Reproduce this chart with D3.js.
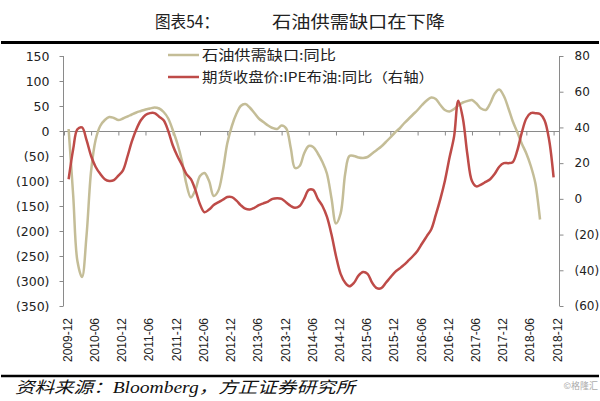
<!DOCTYPE html>
<html><head><meta charset="utf-8">
<script src="https://cdn.jsdelivr.net/npm/d3@7"></script>
<style>body{margin:0;background:#fff}svg{display:block}</style>
</head><body>
<svg id="c" width="600" height="401"></svg>
<script>
// ---------- data ----------
const seriesStart = "2010-01";
const gapName = "石油供需缺口:同比";
const brentName = "期货收盘价:IPE布油:同比（右轴）";
const gapValues = [
  4,-130,-260,-292,-210,-80,-18,10,22,28,26,22,
  25,29,33,37,40,43,45,47,45,38,25,2,
  -25,-60,-105,-133,-118,-90,-84,-100,-130,-120,-80,-25,
  10,35,50,54,47,36,25,18,11,6,4,11,
  5,-35,-74,-70,-45,-30,-32,-45,-62,-85,-135,-185,
  -165,-85,-50,-50,-53,-54,-52,-45,-38,-31,-22,-13,
  -3,5,15,24,33,42,52,61,67,64,52,42,
  39,44,51,57,60,62,55,45,42,55,75,83,
  70,45,20,-2,-25,-45,-70,-105,-177
];
const brentValues = [
  11,28,39,40,33,24,18,14,11,10,10.5,13,
  16,24,32,39,44,47,48,48,46,44,38,30,
  24,19,14,11,5,-3,-7.5,-6,-3.5,-2,-0.5,1,
  1,-1,-3.5,-5.5,-6,-5,-3.5,-2.5,-1.5,0,0.3,0,
  -2,-4,-5,-4,0,5,5,0,-4,-10,-20,-32,
  -42,-47,-49,-47,-43,-41,-42,-47,-50,-50,-47,-44,
  -41,-39,-37,-34.5,-32,-29,-25,-21,-17,-9,0,10,
  23,35,55,45,25,10,7,8,9.5,11,14,18,
  20,20,20.5,27,37,45,48,48,47.5,44,33,12
];
const leftTicks = [150,100,50,0,-50,-100,-150,-200,-250,-300,-350];
const rightTicks = [80,60,40,20,0,-20,-40,-60];
const xTickLabels = ["2009-12","2010-06","2010-12","2011-06","2011-12","2012-06","2012-12","2013-06","2013-12","2014-06","2014-12","2015-06","2015-12","2016-06","2016-12","2017-06","2017-12","2018-06","2018-12"];
const titleLabel = "图表54：";
const titleText = "石油供需缺口在下降";
const sourceText = "资料来源：Bloomberg，方正证券研究所";
const watermark = "©格隆汇";

// ---------- setup ----------
const svg = d3.select("#c");
const parseM = d3.utcParse("%Y-%m");
const start = parseM(seriesStart);
const axisColor = "#8a8a8a";
const tan = "#C4BD97", red = "#BE4B48";

const x = d3.scaleUtc()
  .domain([parseM(xTickLabels[0]), parseM(xTickLabels[xTickLabels.length-1])])
  .range([64, 553.6]);
const yL = d3.scaleLinear().domain([-350,150]).range([306,56]);
const yR = d3.scaleLinear().domain([-60,80]).range([306,56]);
const fmt = v => v < 0 ? "(" + Math.abs(v) + ")" : String(v);

// ---------- title ----------
svg.append("text").attr("x",155).attr("y",28)
  .attr("font-family","'Noto Sans CJK SC',sans-serif").attr("font-size",17)
  .attr("textLength",64).attr("lengthAdjust","spacingAndGlyphs")
  .attr("fill","#222").text(titleLabel);
svg.append("text").attr("x",272).attr("y",28)
  .attr("font-family","'Noto Sans CJK SC',sans-serif").attr("font-size",17)
  .attr("textLength",173).attr("lengthAdjust","spacingAndGlyphs")
  .attr("fill","#222").text(titleText);
svg.append("line").attr("x1",1).attr("x2",599).attr("y1",42.5).attr("y2",42.5)
  .attr("stroke","#000").attr("stroke-width",3);

// ---------- axes ----------
const gL = svg.append("g").attr("transform","translate(63.5,0)")
  .call(d3.axisLeft(yL).tickValues(leftTicks).tickFormat(fmt).tickSize(4).tickPadding(10));
const gR = svg.append("g").attr("transform","translate(559.5,0)")
  .call(d3.axisRight(yR).tickValues(rightTicks).tickFormat(fmt).tickSize(4).tickPadding(11));
[gL,gR].forEach(g => {
  g.select(".domain").attr("stroke",axisColor).attr("d","M0,56V306");
  g.selectAll(".tick line").attr("stroke",axisColor);
  g.selectAll(".tick text").attr("font-family","'DejaVu Sans',sans-serif").attr("font-size",12.5).attr("fill","#222");
});
gR.selectAll(".tick text").attr("font-size",12);

// zero line with ticks
const zy = Math.round(yL(0)) + 0.5;
svg.append("line").attr("x1",63.5).attr("x2",559.5).attr("y1",zy).attr("y2",zy)
  .attr("stroke",axisColor).attr("stroke-width",1);
const gX = svg.append("g").attr("transform",`translate(0,${zy})`)
  .call(d3.axisBottom(x).tickValues(xTickLabels.map(parseM)).tickSize(4).tickFormat(""));
gX.select(".domain").remove();
gX.selectAll(".tick line").attr("stroke",axisColor);

// rotated category labels at bottom
svg.append("g").selectAll("text").data(xTickLabels).join("text")
  .attr("transform", d => `translate(${x(parseM(d))+8},318) rotate(-90)`)
  .attr("text-anchor","end")
  .attr("font-family","'Liberation Sans',Arial,sans-serif").attr("font-size",12)
  .attr("fill","#222").text(d => d);

// ---------- lines ----------
const dateAt = i => d3.utcMonth.offset(start, i);
const lineL = d3.line().x((d,i)=>x(dateAt(i))).y(d=>yL(d)).curve(d3.curveCatmullRom.alpha(0.5));
const lineR = d3.line().x((d,i)=>x(dateAt(i))).y(d=>yR(d)).curve(d3.curveCatmullRom.alpha(0.5));
svg.append("path").attr("d",lineL(gapValues)).attr("fill","none").attr("stroke",tan).attr("stroke-width",2.5);
svg.append("path").attr("d",lineR(brentValues)).attr("fill","none").attr("stroke",red).attr("stroke-width",2.5);

// ---------- legend ----------
const legend = [{name:gapName,color:tan,y:55,len:134},{name:brentName,color:red,y:77,len:232}];
legend.forEach(l => {
  svg.append("line").attr("x1",168).attr("x2",199).attr("y1",l.y).attr("y2",l.y)
    .attr("stroke",l.color).attr("stroke-width",2.5);
  svg.append("text").attr("x",202).attr("y",l.y+5)
    .attr("font-family","'Noto Sans CJK SC',sans-serif").attr("font-size",13.5)
    .attr("textLength",l.len).attr("lengthAdjust","spacingAndGlyphs")
    .attr("fill","#222").text(l.name);
});

// ---------- footer ----------
svg.append("line").attr("x1",1).attr("x2",599).attr("y1",376).attr("y2",376)
  .attr("stroke","#000").attr("stroke-width",2.5);
svg.append("text").attr("x",15).attr("y",393)
  .attr("font-family","'Liberation Serif','Noto Sans CJK SC',serif").attr("font-style","italic")
  .attr("font-size",16).attr("textLength",340).attr("lengthAdjust","spacingAndGlyphs")
  .attr("fill","#111").text(sourceText);
svg.append("text").attr("x",598).attr("y",389).attr("text-anchor","end")
  .attr("font-family","'Noto Sans CJK SC',sans-serif").attr("font-size",9)
  .attr("fill","#aaa").text(watermark);
</script>
</body></html>
